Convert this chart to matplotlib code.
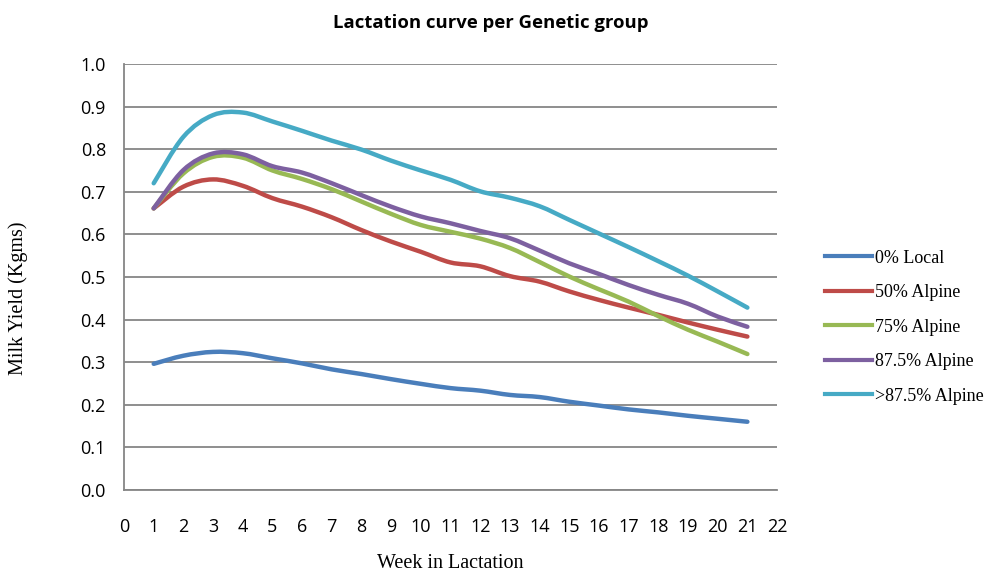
import matplotlib.pyplot as plt
from matplotlib.path import Path
from matplotlib.patches import PathPatch
from matplotlib.lines import Line2D

weeks = list(range(1, 22))
local_0 = [0.296, 0.315, 0.324, 0.321, 0.309, 0.297, 0.283, 0.272, 0.260, 0.249, 0.239,
           0.233, 0.223, 0.218, 0.207, 0.198, 0.189, 0.182, 0.174, 0.167, 0.160]
alpine_50 = [0.661, 0.712, 0.729, 0.714, 0.685, 0.665, 0.640, 0.610, 0.583, 0.559, 0.534,
             0.525, 0.502, 0.489, 0.466, 0.446, 0.428, 0.411, 0.393, 0.376, 0.360]
alpine_75 = [0.661, 0.743, 0.782, 0.780, 0.750, 0.730, 0.706, 0.677, 0.648, 0.622, 0.606,
             0.590, 0.568, 0.535, 0.501, 0.471, 0.442, 0.408, 0.376, 0.348, 0.319]
alpine_875 = [0.661, 0.751, 0.790, 0.788, 0.760, 0.745, 0.720, 0.692, 0.665, 0.642, 0.626,
              0.608, 0.591, 0.562, 0.532, 0.507, 0.481, 0.458, 0.437, 0.407, 0.383]
alpine_gt875 = [0.720, 0.829, 0.880, 0.886, 0.865, 0.843, 0.820, 0.799, 0.773, 0.750, 0.728,
                0.701, 0.686, 0.666, 0.634, 0.602, 0.570, 0.537, 0.503, 0.466, 0.428]

labels = ['0% Local', '50% Alpine', '75% Alpine', '87.5% Alpine', '>87.5% Alpine']
colors = ['#4A7EBB', '#BE4B48', '#98B954', '#7D60A0', '#46AAC5']
series = [local_0, alpine_50, alpine_75, alpine_875, alpine_gt875]


def smooth_path(xs, ys):
    # excel style smoothed line: cubic bezier through every point
    pts = list(zip(xs, ys))
    n = len(pts)
    verts = [pts[0]]
    codes = [Path.MOVETO]
    for i in range(n - 1):
        p0 = pts[i - 1] if i > 0 else pts[i]
        p1 = pts[i]
        p2 = pts[i + 1]
        p3 = pts[i + 2] if i + 2 < n else pts[i + 1]
        c1 = (p1[0] + (p2[0] - p0[0]) / 6, p1[1] + (p2[1] - p0[1]) / 6)
        c2 = (p2[0] - (p3[0] - p1[0]) / 6, p2[1] - (p3[1] - p1[1]) / 6)
        verts += [c1, c2, p2]
        codes += [Path.CURVE4] * 3
    return Path(verts, codes)


fig = plt.figure(figsize=(9.85, 5.75), dpi=100)
ax = fig.add_axes([0.1259, 0.148, 0.6630, 0.7407])

handles = []
for ys, c, lab in zip(series, colors, labels):
    patch = PathPatch(smooth_path(weeks, ys), facecolor='none', edgecolor=c,
                      lw=3.2, capstyle='round', joinstyle='round', zorder=3)
    ax.add_patch(patch)
    handles.append(Line2D([], [], color=c, lw=3, label=lab))

ax.set_xlim(0, 22)
ax.set_ylim(0, 1.0)
ax.set_xticks(range(0, 23))
ax.set_yticks([i / 10 for i in range(11)])
ax.set_yticklabels([f'{i / 10:.1f}' for i in range(11)])
ax.yaxis.grid(True, color='#868686', lw=1.3)
ax.set_axisbelow(True)
ax.tick_params(length=0, labelsize=13)
ax.tick_params(axis='y', pad=13)
ax.tick_params(axis='x', pad=20)
for lab in ax.get_xticklabels() + ax.get_yticklabels():
    lab.set_family('Open Sans')
for s in ['top', 'right']:
    ax.spines[s].set_visible(False)
for s in ['left', 'bottom']:
    ax.spines[s].set_color('#868686')
    ax.spines[s].set_linewidth(1.3)

fig.text(0.4985, 0.960, 'Lactation curve per Genetic group', ha='center', va='center',
         fontsize=13.3, fontweight='bold', family='Open Sans')
fig.text(0.018, 0.482, 'Milk Yield (Kgms)', rotation=90, ha='center', va='center',
         fontsize=14.5, family='Liberation Serif')
fig.text(0.457, 0.02, 'Week in Lactation', ha='center', va='center',
         fontsize=14.5, family='Liberation Serif')

fig.legend(handles=handles, loc='upper left', bbox_to_anchor=(0.825, 0.588),
           frameon=False, prop={'family': 'Liberation Serif', 'size': 13},
           handlelength=2.6, handletextpad=0.15, labelspacing=0.97, borderaxespad=0.3)

fig.savefig('out.png', dpi=100)
